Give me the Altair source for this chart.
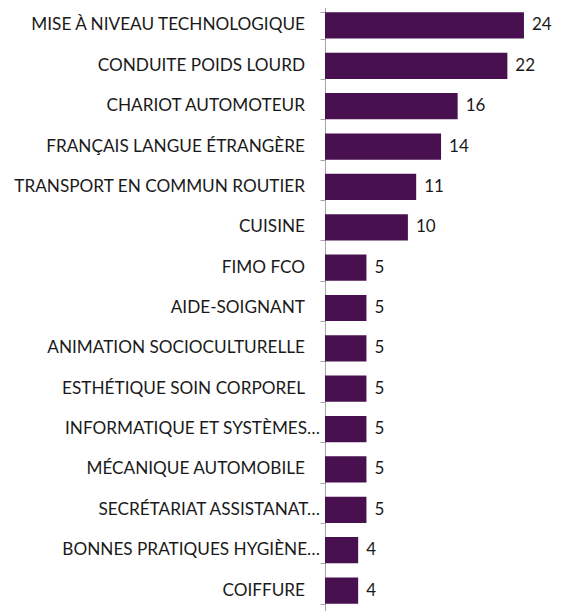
import altair as alt
import pandas as pd

categories = [
    "MISE À NIVEAU TECHNOLOGIQUE",
    "CONDUITE POIDS LOURD",
    "CHARIOT AUTOMOTEUR",
    "FRANÇAIS LANGUE ÉTRANGÈRE",
    "TRANSPORT EN COMMUN ROUTIER",
    "CUISINE",
    "FIMO FCO",
    "AIDE-SOIGNANT",
    "ANIMATION SOCIOCULTURELLE",
    "ESTHÉTIQUE SOIN CORPOREL",
    "INFORMATIQUE ET SYSTÈMES…",
    "MÉCANIQUE AUTOMOBILE",
    "SECRÉTARIAT ASSISTANAT…",
    "BONNES PRATIQUES HYGIÈNE…",
    "COIFFURE",
]
values = [24, 22, 16, 14, 11, 10, 5, 5, 5, 5, 5, 5, 5, 4, 4]

df = pd.DataFrame({"cat": categories, "val": values})

FONT = "Lato"
BAR = "#48104F"
TXT = "#1a1a1a"

y = alt.Y(
    "cat:N",
    sort=categories,
    title=None,
    scale=alt.Scale(paddingInner=0.35, paddingOuter=0.18),
    axis=alt.Axis(
        domainColor="#A6A6A6",
        tickColor="#A6A6A6",
        tickSize=5,
        tickBand="extent",
        labels=False,
    ),
)
x = alt.X("val:Q", scale=alt.Scale(domain=[0, 24.85], nice=False), axis=None)

base = alt.Chart(df)
bars = base.mark_bar(color=BAR).encode(y=y, x=x)
values_txt = base.mark_text(
    align="left", dx=8, font=FONT, fontSize=17, color=TXT
).encode(y=y, x=x, text="val:Q")

cat_full = base.transform_filter("indexof(datum.cat, '…') < 0").mark_text(
    align="right", dx=-20, font=FONT, fontSize=17.2, color=TXT
).encode(y=y, x=alt.datum(0), text="cat:N")
cat_trunc = base.transform_filter("indexof(datum.cat, '…') >= 0").mark_text(
    align="right", dx=-5, font=FONT, fontSize=17.2, color=TXT
).encode(y=y, x=alt.datum(0), text="cat:N")

chart = (
    (bars + values_txt + cat_full + cat_trunc)
    .properties(
        width=206,
        height=606,
        autosize=alt.AutoSizeParams(type="none"),
        padding={"left": 317, "top": -3, "right": 23, "bottom": 0},
    )
    .configure_view(stroke=None)
)

chart.save("out.html", embed_options={"renderer": "svg", "actions": False})
